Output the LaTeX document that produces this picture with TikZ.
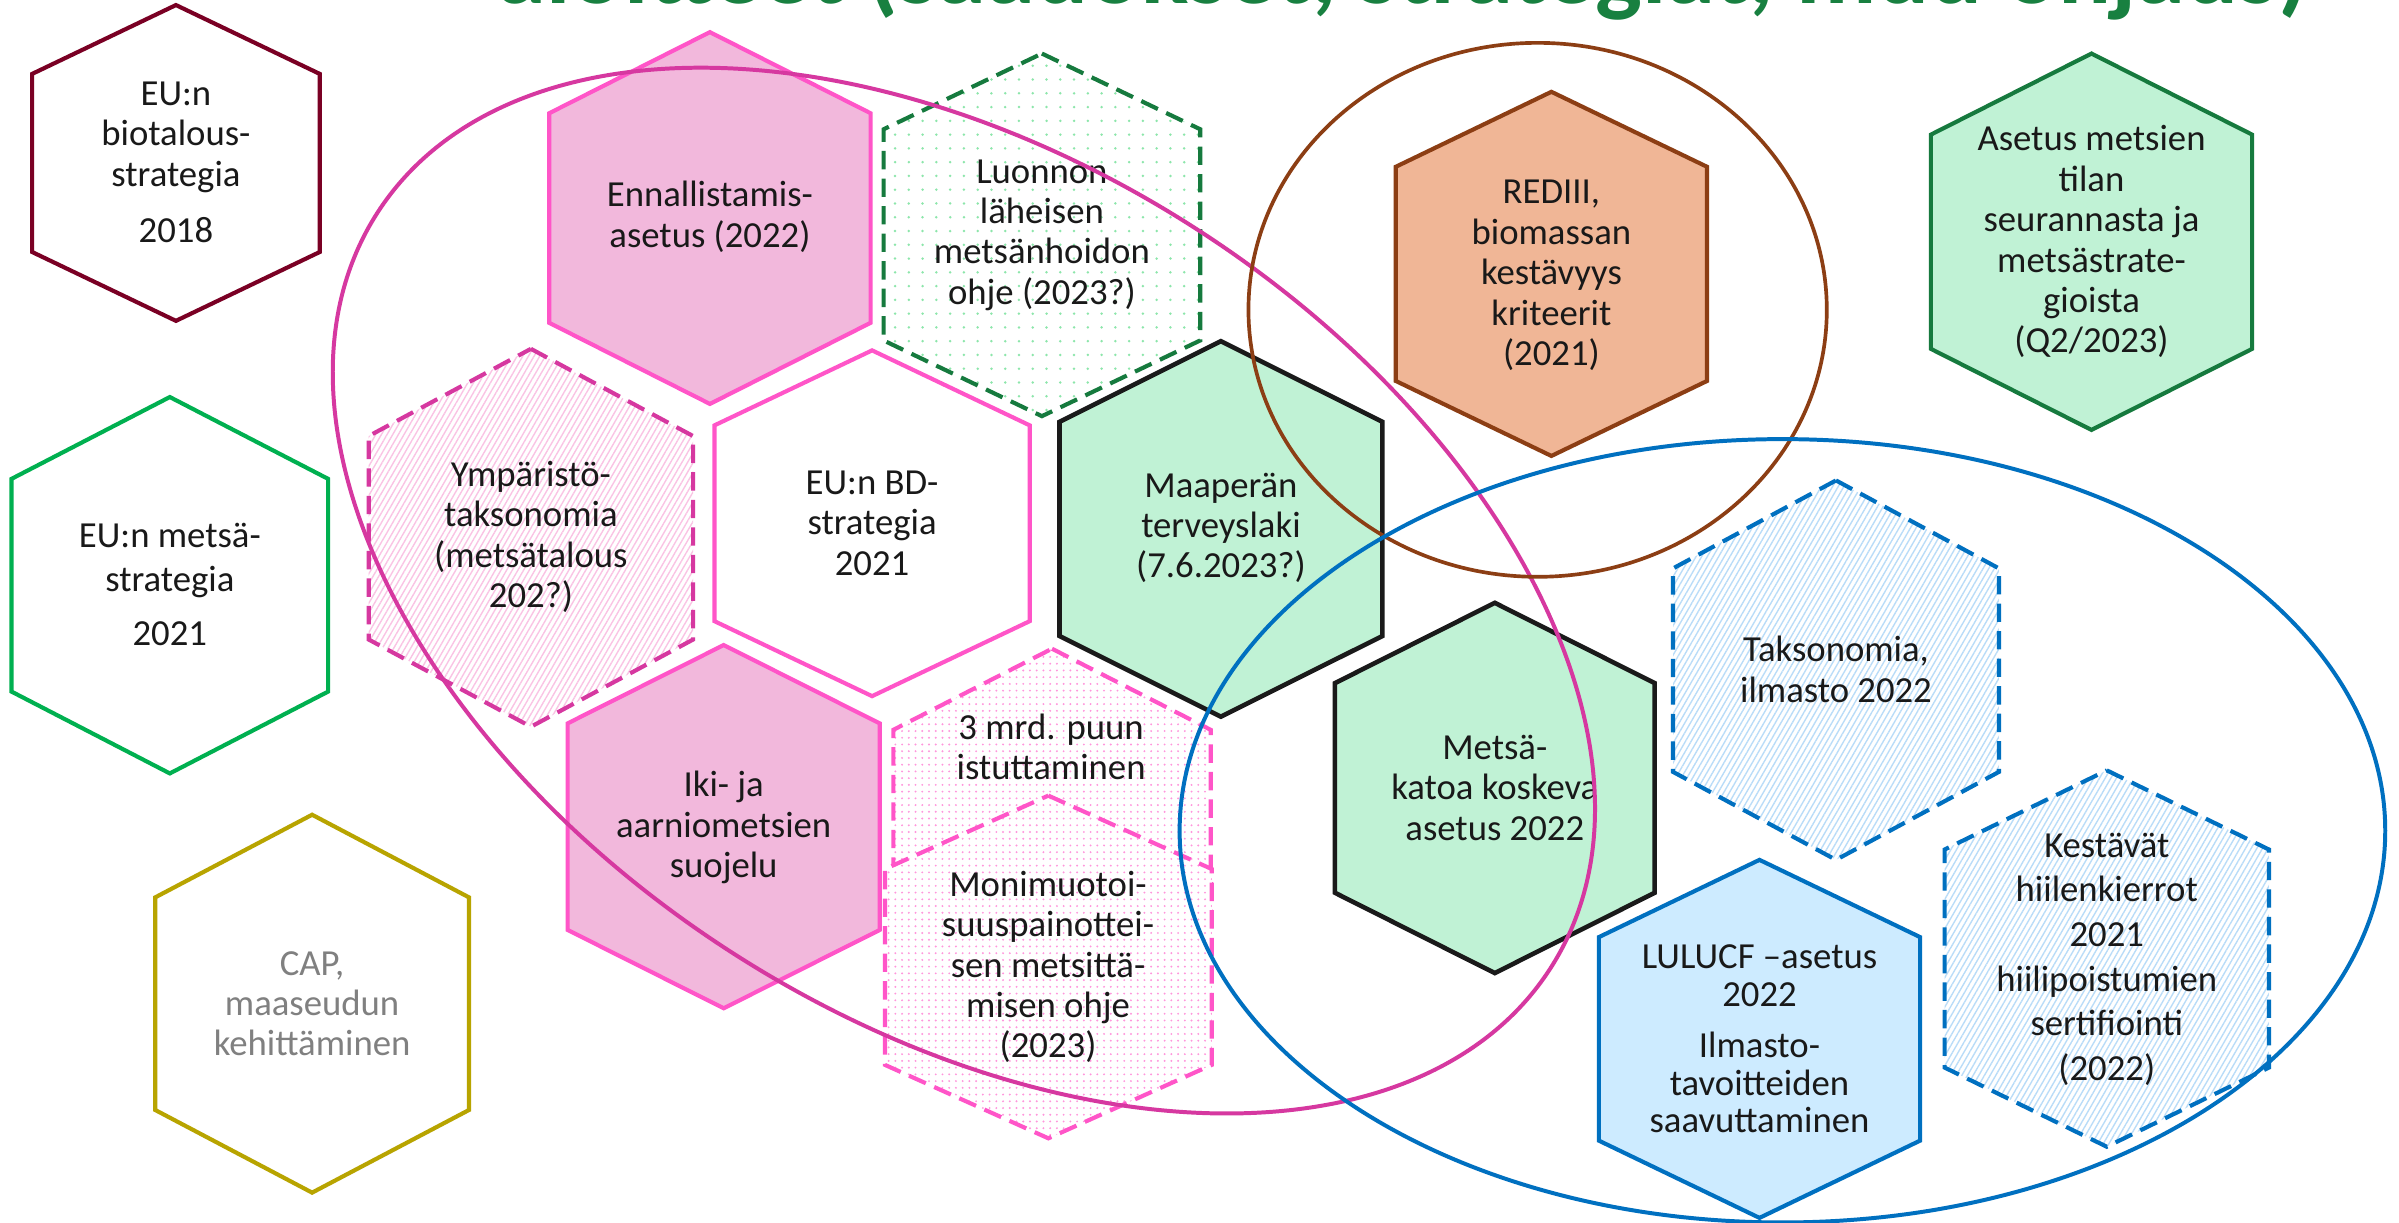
\documentclass[tikz,border=0pt]{standalone}
\usepackage{fontspec}
\setmainfont{Carlito}
\usepackage{graphicx}
\usetikzlibrary{patterns.meta}

\definecolor{maroon}{RGB}{122,0,36}
\definecolor{fgreen}{RGB}{0,176,80}
\definecolor{olive}{RGB}{184,164,0}
\definecolor{hpink}{RGB}{255,85,200}
\definecolor{pinkfill}{RGB}{242,184,220}
\definecolor{dkgreen}{RGB}{22,122,62}
\definecolor{mintfill}{RGB}{192,242,213}
\definecolor{peach}{RGB}{240,182,150}
\definecolor{brownline}{RGB}{140,62,20}
\definecolor{magline}{RGB}{214,56,160}
\definecolor{blueline}{RGB}{0,112,192}
\definecolor{skyfill}{RGB}{205,235,255}
\definecolor{txt}{RGB}{25,25,25}
\definecolor{greytxt}{RGB}{128,128,128}
\definecolor{titlegreen}{RGB}{24,128,64}
\definecolor{dotgreen}{RGB}{140,230,170}
\definecolor{dotpink}{RGB}{255,150,220}
\definecolor{hatchpink}{RGB}{250,195,228}
\definecolor{hatchblue}{RGB}{185,220,248}
\definecolor{blackline}{RGB}{26,26,26}

% hexagon path: centre x, centre y, half width, half side, half height
\newcommand\hexp[5]{(#1,#2-#5) -- (#1+#3,#2-#4) -- (#1+#3,#2+#4) -- (#1,#2+#5) -- (#1-#3,#2+#4) -- (#1-#3,#2-#4) -- cycle}

\begin{document}
\begin{tikzpicture}[x=0.5pt,y=-0.5pt,
  hexline/.style={line width=1.35pt, line join=miter},
  dsh/.style={dash pattern=on 6pt off 3pt},
  lbl/.style={font=\fontsize{12}{13.2}\selectfont, align=center, text=txt, inner sep=0pt},
  ring/.style={line width=1.3pt},
  dotsg/.style={preaction={fill=white}, pattern={Dots[distance=4.5pt, radius=0.45pt]}, pattern color=dotgreen},
  dotsp/.style={preaction={fill=white}, pattern={Dots[distance=2.2pt, radius=0.35pt]}, pattern color=dotpink},
  hatchp/.style={preaction={fill=white}, pattern={Lines[angle=60, distance=1.6pt, line width=0.45pt]}, pattern color=hatchpink},
  hatchb/.style={preaction={fill=white}, pattern={Lines[angle=60, distance=1.6pt, line width=0.45pt]}, pattern color=hatchblue},
]
\useasboundingbox (0,0) rectangle (1568,799);
\clip (0,0) rectangle (1568,799);
\fill[white] (0,0) rectangle (1568,799);

% title (cut by the top edge, as in the reference)
\node[anchor=base west, inner sep=0pt, text=titlegreen, font=\bfseries] (title) at (325,2)
  {\resizebox{591.5pt}{!}{aloitteet (säädökset, strategiat, muu ohjaus)}};

% left column
\draw[hexline, draw=maroon] \hexp{115}{106.5}{94}{58.2}{103.2};
\node[lbl] (bio) at (115,106) {EU:n\\biotalous-\\strategia\\[5pt]2018};

\draw[hexline, draw=fgreen] \hexp{111}{382.5}{103.5}{69.5}{123};
\node[lbl] (forest) at (111,382) {EU:n metsä-\\[1pt]strategia\\[4.5pt]2021};

\draw[hexline, draw=olive] \hexp{204}{656}{102.5}{69.5}{123.5};
\node[lbl, text=greytxt] (cap) at (204,656) {CAP,\\maaseudun\\kehittäminen};

% pink group
\draw[hexline, draw=hpink, fill=pinkfill] \hexp{464}{142.5}{105}{68.5}{121.5};
\node[lbl] (enn) at (464,141.6) {Ennallistamis-\\asetus (2022)};

\draw[hexline, dsh, draw=dkgreen, dotsg] \hexp{681}{153.5}{103.5}{69}{118.5};
\node[lbl] (luo) at (681,153.6) {Luonnon\\läheisen\\metsänhoidon\\ohje (2023?)};

\draw[hexline, dsh, draw=magline, hatchp] \hexp{347}{351.5}{106}{66.5}{123.5};
\node[lbl] (ymp) at (347,351) {Ympäristö-\\taksonomia\\(metsätalous\\202?)};

\draw[hexline, draw=hpink, fill=white] \hexp{570}{342}{103}{64}{113};
\node[lbl] (bd) at (570,342) {EU:n BD-\\strategia\\2021};

\draw[hexline, draw=hpink, fill=pinkfill] \hexp{473}{540.3}{102}{67.5}{118.7};
\node[lbl] (iki) at (473,541) {Iki- ja\\aarniometsien\\suojelu};

\draw[hexline, dsh, draw=hpink, dotsp] \hexp{687.6}{544}{103.7}{67}{120};
\node[lbl] (mrd) at (687,488) {3 mrd. puun\\istuttaminen};

\draw[hexline, dsh, draw=hpink, dotsp] \hexp{685.2}{632}{106.8}{64}{112};
\node[lbl] (moni) at (685,632) {Monimuotoi-\\suuspainottei-\\sen metsittä-\\misen ohje\\(2023)};

% middle
\draw[hexline, line width=1.5pt, draw=blackline, fill=mintfill] \hexp{798}{345.7}{105.5}{70}{122.7};
\node[lbl] (maa) at (798,345) {Maaperän\\terveyslaki\\(7.6.2023?)};

\draw[hexline, line width=1.5pt, draw=blackline, fill=mintfill] \hexp{977}{515}{104.5}{68.5}{121};
\node[lbl] (kato) at (977,515) {Metsä-\\katoa koskeva\\asetus 2022};

\draw[hexline, draw=brownline, fill=peach] \hexp{1014}{179}{101.7}{70}{119};
\node[lbl] (red) at (1014,180) {REDIII,\\biomassan\\kestävyys\\kriteerit\\(2021)};

\draw[hexline, draw=dkgreen, fill=mintfill] \hexp{1367}{158}{105}{70}{123};
\node[lbl] (aset) at (1367,158) {Asetus metsien\\tilan\\seurannasta ja\\metsästrate-\\gioista\\(Q2/2023)};

% blue group
\draw[hexline, dsh, draw=blueline, hatchb] \hexp{1200}{438}{106.5}{66.5}{124};
\node[lbl] (taks) at (1200,437.5) {Taksonomia,\\ilmasto 2022};

\draw[hexline, draw=blueline, fill=skyfill] \hexp{1150}{679}{105}{66.5}{117};
\node[lbl, font=\fontsize{12}{12.3}\selectfont] (lulu) at (1150,679) {LULUCF –asetus\\2022\\[4.5pt]Ilmasto-\\tavoitteiden\\saavuttaminen};

\draw[hexline, dsh, draw=blueline, hatchb] \hexp{1377}{626.5}{106}{71.25}{123};
\node[lbl, font=\fontsize{12}{14.6}\selectfont] (kest) at (1377,627) {Kestävät\\hiilenkierrot\\2021\\hiilipoistumien\\sertifiointi\\(2022)};

% grouping rings
\draw[ring, draw=magline, rotate around={-32.8:(630,386)}] (630,386) ellipse [x radius=456, y radius=281];
\draw[ring, line width=1.2pt, draw=brownline] (1005,202.5) ellipse [x radius=189, y radius=174.5];
\draw[ring, draw=blueline] (1165,543) ellipse [x radius=394, y radius=256];
\end{tikzpicture}
\end{document}
